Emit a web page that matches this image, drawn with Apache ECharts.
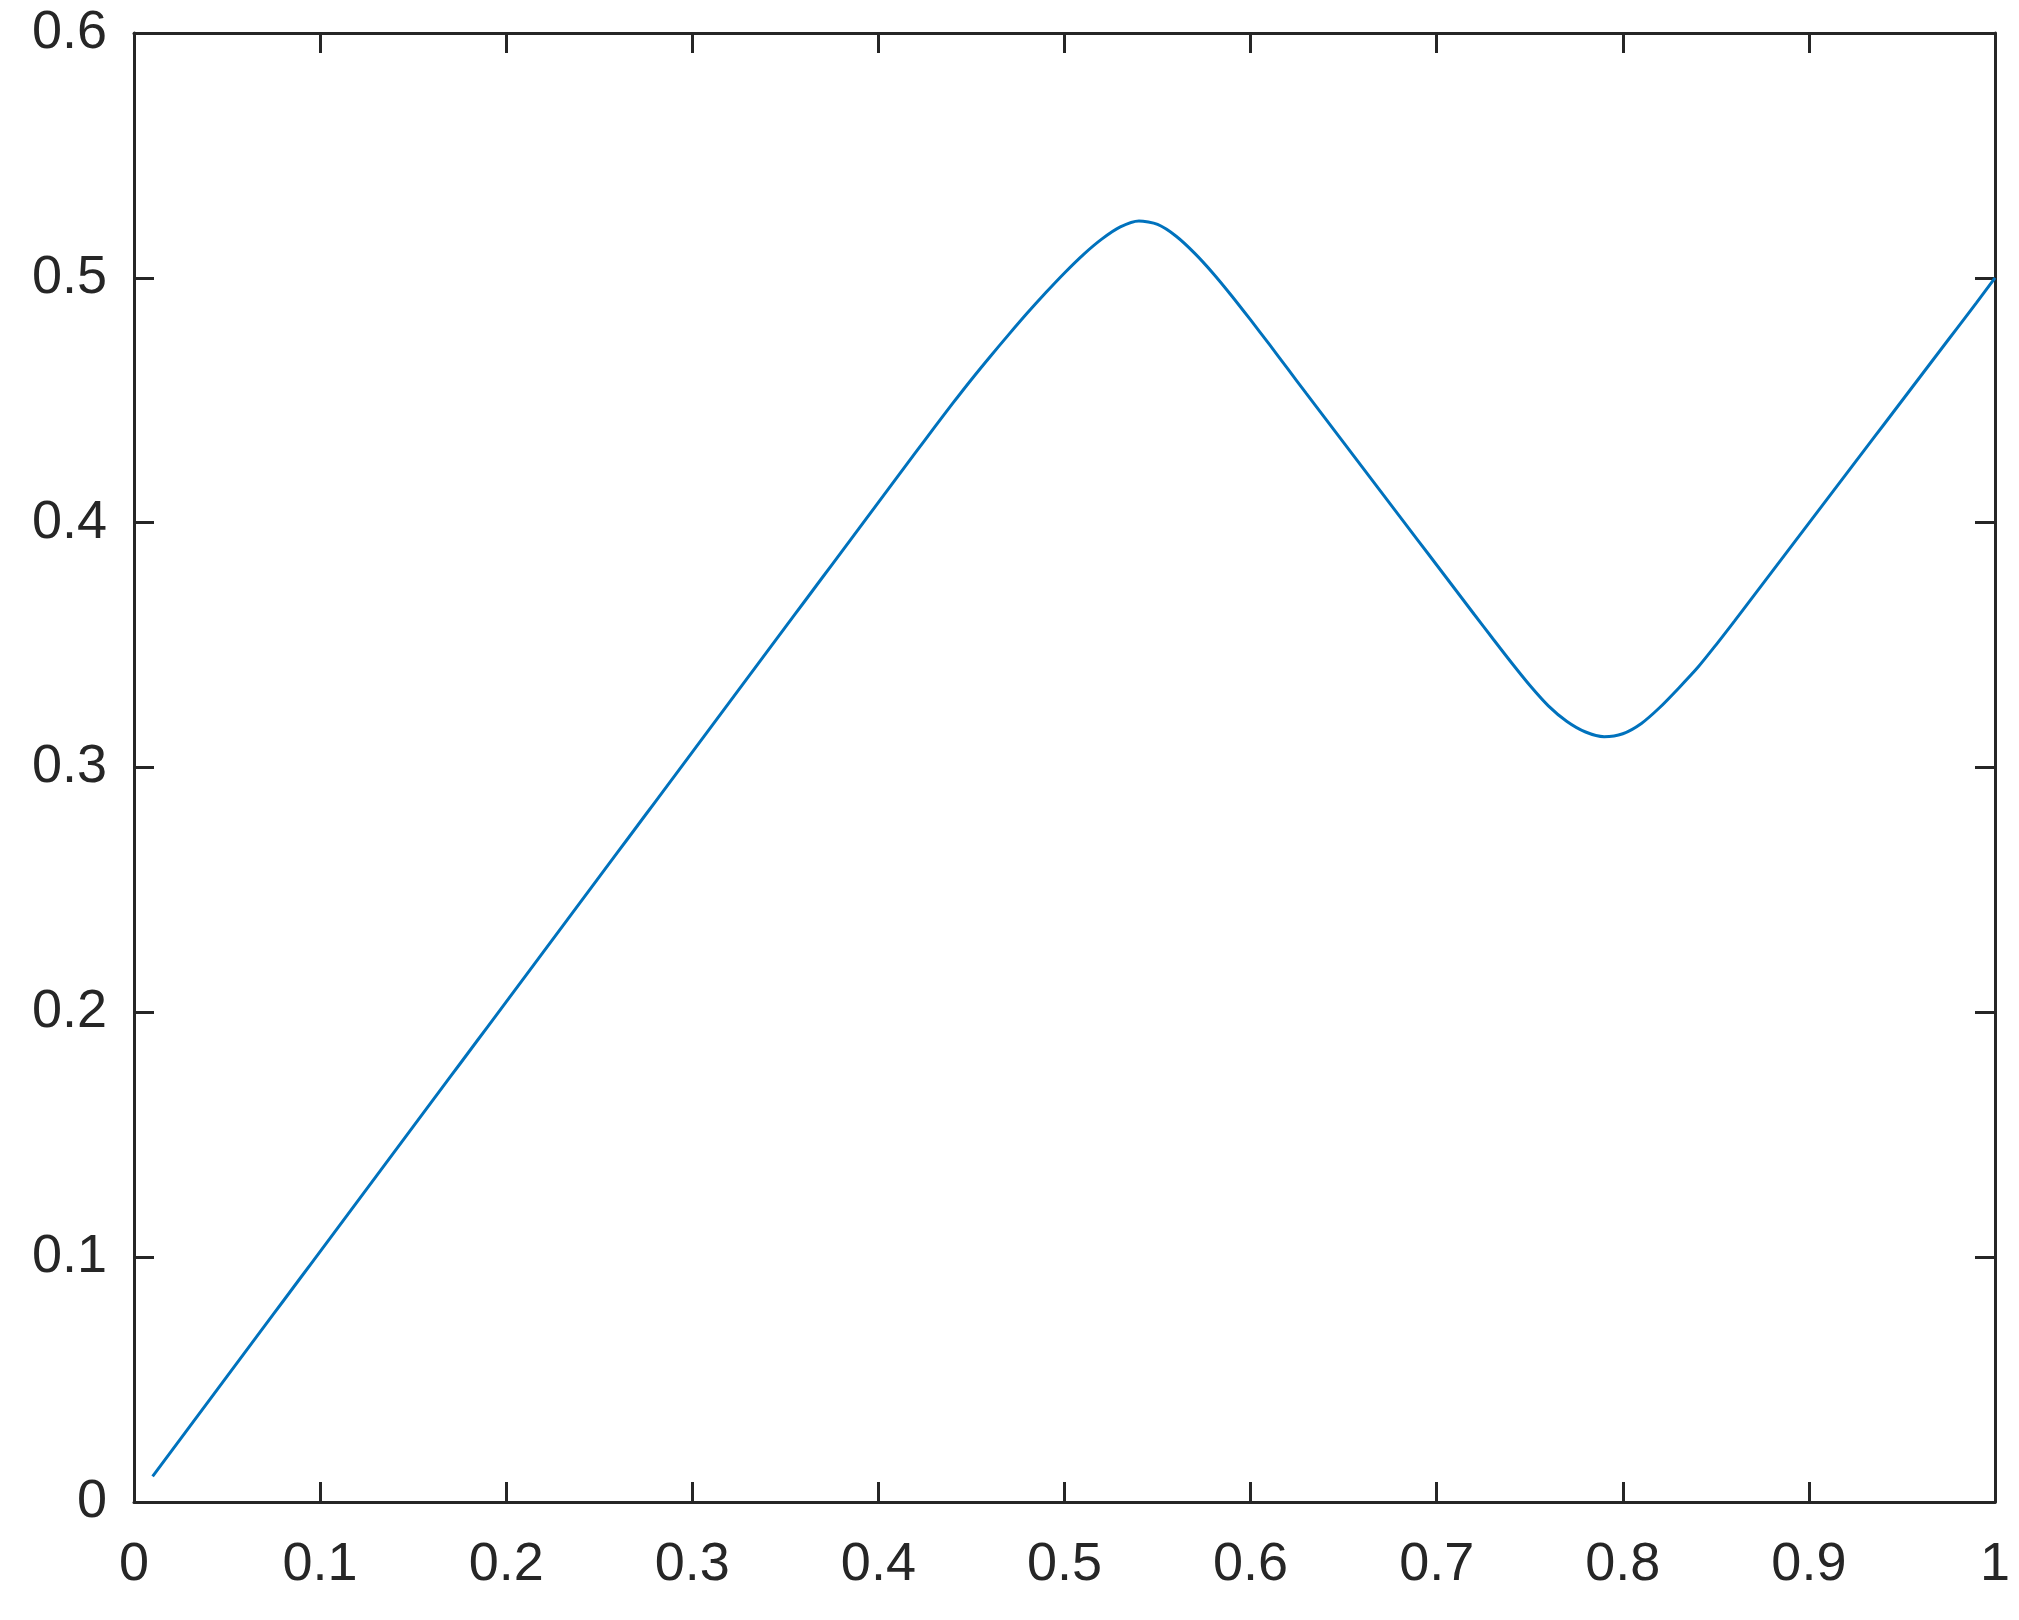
<!DOCTYPE html>
<html lang="en">
<head>
    <meta charset="UTF-8">
    <title>Line</title>
    <script src="https://cdn.jsdelivr.net/npm/echarts@6/dist/echarts.min.js"></script>
    <style>
      html, body { margin: 0; padding: 0; background: #fff; }
      #chart { width: 2019px; height: 1620px; }
    </style>
</head>
<body>
  <div id="chart"></div>
  <script>
    // x samples and y values
    let xValues = [
      0.01, 0.02, 0.03, 0.04, 0.05, 0.06, 0.07, 0.08, 0.09, 0.10,
      0.11, 0.12, 0.13, 0.14, 0.15, 0.16, 0.17, 0.18, 0.19, 0.20,
      0.21, 0.22, 0.23, 0.24, 0.25, 0.26, 0.27, 0.28, 0.29, 0.30,
      0.31, 0.32, 0.33, 0.34, 0.35, 0.36, 0.37, 0.38, 0.39, 0.40,
      0.41, 0.42, 0.43, 0.44, 0.45, 0.46, 0.47, 0.48, 0.49, 0.50,
      0.51, 0.52, 0.53, 0.54, 0.55, 0.56, 0.57, 0.58, 0.59, 0.60,
      0.61, 0.62, 0.63, 0.64, 0.65, 0.66, 0.67, 0.68, 0.69, 0.70,
      0.71, 0.72, 0.73, 0.74, 0.75, 0.76, 0.77, 0.78, 0.79, 0.80,
      0.81, 0.82, 0.83, 0.84, 0.85, 0.86, 0.87, 0.88, 0.89, 0.90,
      0.91, 0.92, 0.93, 0.94, 0.95, 0.96, 0.97, 0.98, 0.99, 1.00
    ];
    let yValues = [
      0.0105, 0.0207, 0.0309, 0.0411, 0.0513, 0.0615, 0.0717, 0.0819, 0.0921, 0.1023,
      0.1125, 0.1227, 0.1329, 0.1431, 0.1533, 0.1635, 0.1737, 0.1839, 0.1941, 0.2043,
      0.2145, 0.2247, 0.2349, 0.2451, 0.2553, 0.2655, 0.2757, 0.2859, 0.2961, 0.3063,
      0.3165, 0.3267, 0.3369, 0.3471, 0.3573, 0.3675, 0.3777, 0.3879, 0.3981, 0.4083,
      0.4185, 0.4287, 0.4388, 0.4488, 0.4585, 0.4678, 0.4768, 0.4856, 0.4940, 0.5020,
      0.5094, 0.5158, 0.5208, 0.5232, 0.5218, 0.5170, 0.5100, 0.5017, 0.4925, 0.4828,
      0.4729, 0.4628, 0.4527, 0.4427, 0.4327, 0.4227, 0.4127, 0.4027, 0.3927, 0.3827,
      0.3727, 0.3627, 0.3528, 0.3430, 0.3336, 0.3252, 0.3188, 0.3145, 0.3126, 0.3138,
      0.3180, 0.3246, 0.3324, 0.3406, 0.3500, 0.3598, 0.3698, 0.3798, 0.3898, 0.3998,
      0.4098, 0.4198, 0.4298, 0.4398, 0.4498, 0.4598, 0.4698, 0.4798, 0.4898, 0.5000
    ];

    let xTicks = { min: 0, max: 1, interval: 0.1 };
    let yTicks = { min: 0, max: 0.6, interval: 0.1 };

    let axisColor = '#262626';
    let fontFamily = '"Liberation Sans", Arial, Helvetica, sans-serif';

    let points = xValues.map((x, i) => [x, yValues[i]]);

    const chart = echarts.init(document.getElementById('chart'), null, { renderer: 'canvas' });

    // common axis look: box frame with inward ticks
    function frameAxis(extra) {
      return Object.assign({
        type: 'value',
        axisLine: { show: true, onZero: false, lineStyle: { color: axisColor, width: 3 } },
        axisTick: { show: true, inside: true, length: 20, lineStyle: { color: axisColor, width: 3 } },
        splitLine: { show: false },
        axisLabel: { show: false }
      }, extra);
    }

    const labelStyle = {
      show: true,
      color: axisColor,
      fontSize: 54,
      fontFamily: fontFamily
    };

    chart.setOption({
      animation: false,
      backgroundColor: '#ffffff',
      grid: {
        left: 134,
        right: 24,
        top: 33,
        bottom: 118,
        containLabel: false,
        outerBoundsMode: 'none'
      },
      xAxis: [
        frameAxis(Object.assign({ position: 'bottom', axisLabel: Object.assign({ margin: 36 }, labelStyle) }, xTicks)),
        frameAxis(Object.assign({ position: 'top' }, xTicks))
      ],
      yAxis: [
        frameAxis(Object.assign({ position: 'left', axisLabel: Object.assign({ margin: 27, padding: [10, 0, 0, 0] }, labelStyle) }, yTicks)),
        frameAxis(Object.assign({ position: 'right' }, yTicks))
      ],
      series: [{
        type: 'line',
        data: points,
        xAxisIndex: 0,
        yAxisIndex: 0,
        showSymbol: false,
        smooth: 0.25,
        lineStyle: { color: '#0072BD', width: 3 }
      }]
    });
  </script>
</body>
</html>
